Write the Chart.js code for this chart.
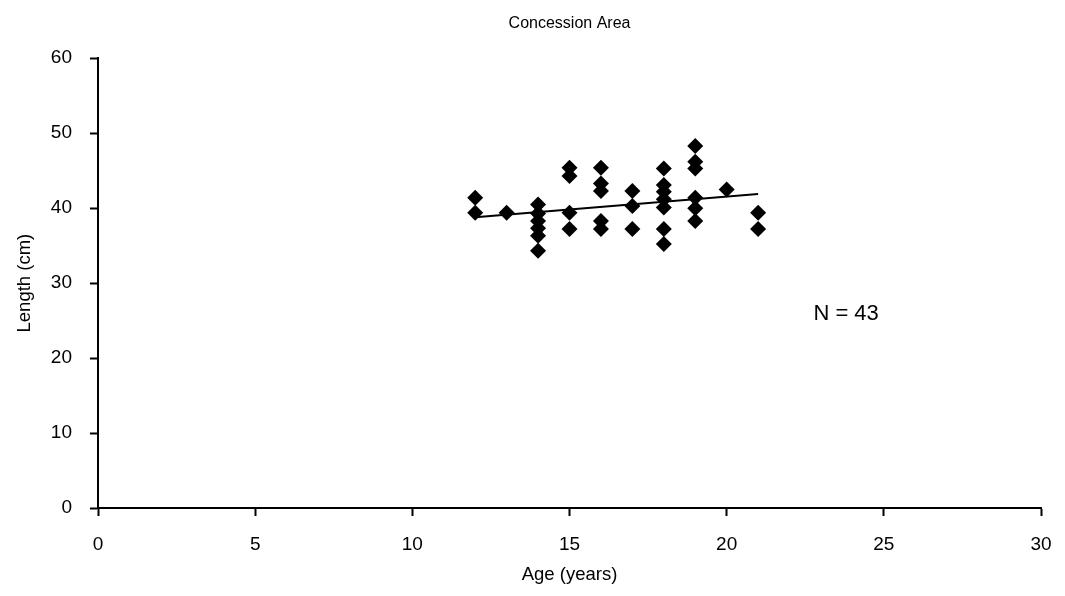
<!DOCTYPE html>
<html>
<head>
<meta charset="utf-8">
<script src="https://cdn.jsdelivr.net/npm/chart.js@4/dist/chart.umd.min.js"></script>
<style>
  html, body { margin: 0; padding: 0; background: #fff; }
  #wrap { width: 1065px; height: 596px; }
</style>
</head>
<body>
<div id="wrap"><canvas id="chartContainer"></canvas></div>
<script>
"use strict";

// data (age in years, length in cm)
let ages = [12, 12, 13, 14, 14, 14, 14, 14, 14, 15, 15, 15, 15,
            16, 16, 16, 16, 16, 17, 17, 17,
            18, 18, 18, 18, 18, 18, 18,
            19, 19, 19, 19, 19, 19, 20, 21, 21];
let lengths = [41.4, 39.4, 39.4, 40.5, 39.3, 38.3, 37.3, 36.3, 34.3, 45.4, 44.3, 39.4, 37.2,
               45.4, 43.3, 42.3, 38.3, 37.2, 42.3, 40.3, 37.2,
               45.3, 43.1, 42.2, 41.2, 40.1, 37.2, 35.2,
               48.3, 46.2, 45.3, 41.4, 40.0, 38.3, 42.5, 39.4, 37.2];
// trend line end points
let trendAges = [12, 21];
let trendLengths = [38.8, 41.9];

let xTicks = [0, 5, 10, 15, 20, 25, 30];
let yTicks = [0, 10, 20, 30, 40, 50, 60];

let noteText = "N = 43";
let notePos = [23.8, 25.9];

const FONT = "'Liberation Sans', Arial, sans-serif";

function toPoints(xs, ys) {
  return xs.map((x, i) => ({ x: x, y: ys[i] }));
}

// writes N = 43 inside the plot
const notePlugin = {
  id: 'note',
  afterDatasetsDraw(chart) {
    let ctx = chart.ctx;
    let px = chart.scales.x.getPixelForValue(notePos[0]);
    let py = chart.scales.y.getPixelForValue(notePos[1]);
    ctx.save();
    ctx.font = "22px " + FONT;
    ctx.fillStyle = '#000';
    ctx.textAlign = 'center';
    ctx.textBaseline = 'middle';
    ctx.fillText(noteText, px, py);
    ctx.restore();
  }
};

function appendChart() {
  let chartContainer = document.getElementById('chartContainer');
  new Chart(chartContainer, {
    type: 'scatter',
    data: {
      datasets: [{
        data: toPoints(ages, lengths),
        pointStyle: 'rectRot',
        pointRadius: 8,
        backgroundColor: '#000',
        borderColor: '#000',
        borderWidth: 0,
        showLine: false
      }, {
        data: toPoints(trendAges, trendLengths),
        showLine: true,
        borderColor: '#000',
        borderWidth: 2,
        pointRadius: 0
      }]
    },
    plugins: [notePlugin],
    options: {
      responsive: true,
      maintainAspectRatio: false,
      animation: false,
      layout: { padding: { top: 0, right: 24, bottom: 6, left: 10 } },
      plugins: {
        legend: { display: false },
        tooltip: { enabled: false },
        title: {
          display: true,
          fullSize: false,
          text: 'Concession Area',
          color: '#000',
          font: { family: FONT, size: 16, weight: 'normal' },
          padding: { top: 14, bottom: 25 }
        }
      },
      scales: {
        x: {
          type: 'linear',
          min: 0, max: 30,
          afterBuildTicks: axis => { axis.ticks = xTicks.map(v => ({ value: v })); },
          afterFit: axis => { axis.height = 82; axis.paddingRight = 0; },
          grid: { display: true, drawOnChartArea: false, drawTicks: true, tickLength: 8, color: '#000', tickWidth: 2 },
          border: { display: true, color: '#000', width: 2 },
          ticks: { color: '#000', font: { family: FONT, size: 19 }, padding: 17, maxRotation: 0 },
          title: {
            display: true,
            text: 'Age (years)',
            color: '#000',
            font: { family: FONT, size: 18.5 },
            padding: { top: 2 }
          }
        },
        y: {
          type: 'linear',
          min: 0, max: 60,
          afterBuildTicks: axis => { axis.ticks = yTicks.map(v => ({ value: v })); },
          afterFit: axis => { axis.width = 88; },
          grid: { display: true, drawOnChartArea: false, drawTicks: true, tickLength: 8, color: '#000', tickWidth: 2 },
          border: { display: true, color: '#000', width: 2 },
          ticks: { color: '#000', font: { family: FONT, size: 19 }, padding: 18 },
          title: {
            display: true,
            text: 'Length (cm)',
            color: '#000',
            font: { family: FONT, size: 18.5 },
            padding: { bottom: 4 }
          }
        }
      }
    }
  });
}

appendChart();
</script>
</body>
</html>
